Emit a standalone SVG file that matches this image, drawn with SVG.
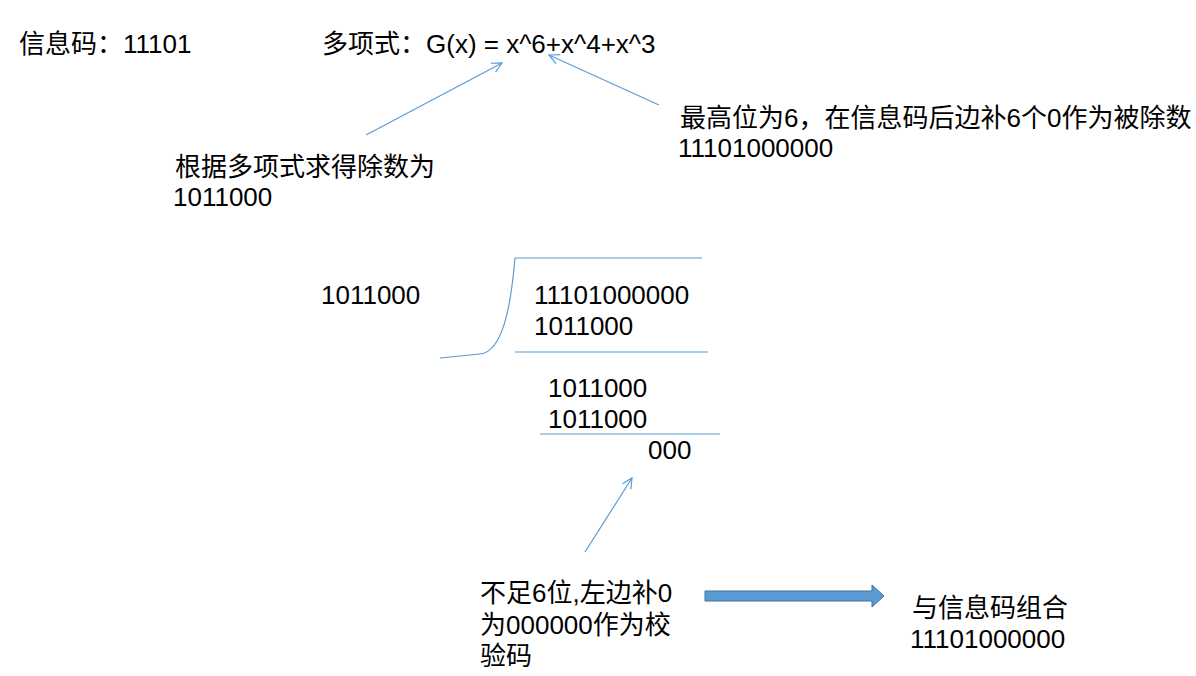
<svg xmlns="http://www.w3.org/2000/svg" width="1196" height="676" viewBox="0 0 1196 676">
<style>
text{font-family:"Liberation Sans","Noto Sans CJK SC",sans-serif;font-size:26px;fill:#000}
.ln{stroke:#5b9bd5;stroke-width:1.2;fill:none}
</style>
<defs>
<marker id="open" viewBox="0 0 12 12" refX="11" refY="6" markerWidth="12" markerHeight="12" markerUnits="userSpaceOnUse" orient="auto">
<path d="M1,1 L11,6 L1,11" fill="none" stroke="#5b9bd5" stroke-width="1.2"/>
</marker>
</defs>
<rect width="1196" height="676" fill="#fff"/>
<g id="info"><text x="19" y="53">信息码：11101</text></g>
<g id="poly"><text x="322" y="53">多项式：G(x) = x^6+x^4+x^3</text></g>
<g id="divisor-note"><text x="175" y="176">根据多项式求得除数为</text><text x="173" y="206">1011000</text></g>
<g id="dividend-note"><text x="680" y="127">最高位为6，在信息码后边补6个0作为被除数</text><text x="678" y="157">11101000000</text></g>
<g id="division">
<text x="321" y="304">1011000</text>
<path class="ln" d="M515,258 L702,258"/>
<path class="ln" d="M515,258 C511,305 503,352 480,354 L440,358"/>
<text x="534" y="304">11101000000</text>
<text x="534" y="335">1011000</text>
<path class="ln" d="M515,352 L708,352"/>
<text x="548" y="397">1011000</text>
<text x="548" y="428">1011000</text>
<path class="ln" d="M540,434 L720,434"/>
<text x="648" y="459">000</text>
</g>
<g id="check-note"><text x="480" y="602">不足6位,左边补0</text><text x="480" y="634">为000000作为校</text><text x="480" y="665">验码</text></g>
<g id="combine"><text x="912" y="617">与信息码组合</text><text x="910" y="648">11101000000</text></g>
<g id="connectors">
<path class="ln" d="M366,135 L502,63" marker-end="url(#open)"/>
<path class="ln" d="M659,105 L549,55" marker-end="url(#open)"/>
<path class="ln" d="M585,552 L632,478" marker-end="url(#open)"/>
<path d="M705,591 L872,591 L872,585 L884,596 L872,607 L872,601 L705,601 Z" fill="#5b9bd5" stroke="#41719c" stroke-width="1"/>
</g>
</svg>
